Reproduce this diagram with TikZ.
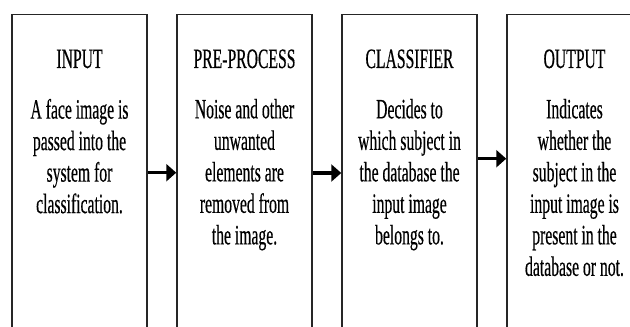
\documentclass[tikz,border=0pt]{standalone}
\usepackage{fontspec}
\newfontfamily\stagefont[FakeStretch=0.56,FakeBold=0.4]{Liberation Serif}
\usetikzlibrary{arrows.meta}
\tikzset{
	stage/.style={draw=black!85, line width=1.5pt, minimum width=135pt, minimum height=340pt, anchor=north, inner sep=0pt},
	stagetitle/.style={font=\stagefont\fontsize{28}{31.5}\selectfont, anchor=base, inner sep=0pt},
	stagetext/.style={font=\stagefont\fontsize{28}{31.5}\selectfont, align=center, anchor=north, inner sep=0pt},
	flow/.style={line width=3.5pt, -{Triangle[length=10pt,width=17pt]}}
}

\begin{document}
\begin{tikzpicture}[x=1pt,y=1pt]
			%%%%% START %%%%%
			\useasboundingbox (0,0) rectangle (630,327);
			\clip (0,0) rectangle (630,327);
			
			% the four stages, cut off at the bottom
			\node[stage] (input) at (79.5,313) {};
			\node[stage] (pre) at (244.5,313) {};
			\node[stage] (cls) at (409.5,313) {};
			\node[stage] (out) at (574.5,313) {};
			
			\node[stagetitle] (input-t) at ([yshift=-54pt]input.north) {INPUT};
			\node[stagetext] (input-b) at ([yshift=-84.7pt]input.north) {A face image is\\ passed into the\\ system for\\ classification.};
			
			\node[stagetitle] (pre-t) at ([yshift=-54pt]pre.north) {PRE-PROCESS};
			\node[stagetext] (pre-b) at ([yshift=-84.7pt]pre.north) {Noise and other\\ unwanted\\ elements are\\ removed from\\ the image.};
			
			\node[stagetitle] (cls-t) at ([yshift=-54pt]cls.north) {CLASSIFIER};
			\node[stagetext] (cls-b) at ([yshift=-84.7pt]cls.north) {Decides to\\ which subject in\\ the database the\\ input image\\ belongs to.};
			
			\node[stagetitle] (out-t) at ([yshift=-54pt]out.north) {OUTPUT};
			\node[stagetext] (out-b) at ([yshift=-84.7pt]out.north) {Indicates\\ whether the\\ subject in the\\ input image is\\ present in the\\ database or not.};
			
			% arrows between the stages
			\draw[flow] (input.east |- 0,154.3) -- (pre.west |- 0,154.3);
			\draw[flow] (pre.east |- 0,154) -- (cls.west |- 0,154);
			\draw[flow] (cls.east |- 0,168.3) -- (out.west |- 0,168.3);
			
			%%%%% END %%%%%
\end{tikzpicture}
\end{document}
